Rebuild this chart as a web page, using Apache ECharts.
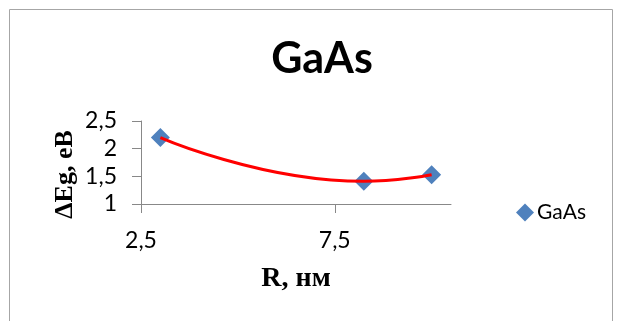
<!DOCTYPE html>
<html>
<head>
<meta charset="utf-8">
<style>
  html, body { margin: 0; padding: 0; background: #fff; }
  #chart { width: 620px; height: 321px; }
</style>
<script src="https://cdn.jsdelivr.net/npm/echarts@6/dist/echarts.min.js"></script>
</head>
<body>
<div id="chart"></div>
<script>
// Radius of GaAs quantum dots (nm) and band-gap shift (eV)
const radiusNm = [3, 8.25, 10];
const deltaEg = [2.2, 1.41, 1.53];
const xTicks = [2.5, 7.5];
const yTicks = [1, 1.5, 2, 2.5];

const points = radiusNm.map((r, i) => [r, deltaEg[i]]);
const comma = v => String(v).replace('.', ',');

const chart = echarts.init(document.getElementById('chart'), null, { renderer: 'canvas' });
chart.setOption({
  animation: false,
  backgroundColor: '#fff',
  title: {
    text: 'GaAs',
    left: 317,
    top: 33,
    textAlign: 'center',
    textStyle: { fontFamily: 'Lato', fontWeight: 'bold', fontSize: 43, color: '#000' }
  },
  graphic: [{
    type: 'rect',
    shape: { x: 9.5, y: 9.5, width: 603, height: 330 },
    style: { fill: 'none', stroke: '#a6a6a6', lineWidth: 1 },
    silent: true
  }],
  legend: {
    left: 511,
    top: 197,
    itemWidth: 18,
    itemHeight: 18,
    itemGap: 4,
    data: [{ name: 'GaAs', icon: 'diamond' }],
    itemStyle: { color: '#4f81bd', opacity: 1 },
    textStyle: { fontFamily: 'Lato', fontSize: 21, color: '#000', padding: [0, 0, 0, -2] }
  },
  grid: { left: 141, right: 169, top: 121, bottom: 117 },
  xAxis: {
    type: 'value',
    min: 2.5,
    max: 10.5,
    name: 'R, нм',
    nameLocation: 'middle',
    nameGap: 61,
    nameTextStyle: { fontFamily: 'Liberation Serif', fontWeight: 'bold', fontSize: 28, color: '#000' },
    axisLine: { lineStyle: { color: '#888', width: 1 } },
    axisTick: { show: true, length: 9, customValues: xTicks, lineStyle: { color: '#888' } },
    axisLabel: {
      customValues: xTicks,
      margin: 25,
      fontFamily: 'Lato', fontSize: 23, color: '#000',
      formatter: comma
    },
    splitLine: { show: false }
  },
  yAxis: {
    type: 'value',
    min: 1,
    max: 2.5,
    interval: 0.5,
    name: 'ΔEg, eB',
    nameLocation: 'middle',
    nameGap: 63,
    nameRotate: 90,
    nameTextStyle: { fontFamily: 'Liberation Serif', fontWeight: 'bold', fontSize: 26, color: '#000', padding: [0, 24, 0, 0] },
    axisLine: { show: true, lineStyle: { color: '#888', width: 1 } },
    axisTick: { show: true, length: 9, lineStyle: { color: '#888' } },
    axisLabel: {
      margin: 24,
      fontFamily: 'Lato', fontSize: 23, color: '#000',
      formatter: comma
    },
    splitLine: { show: false }
  },
  series: [
    {
      name: 'trend',
      type: 'line',
      data: points,
      smooth: 0.5,
      symbol: 'none',
      lineStyle: { color: '#ff0000', width: 3 },
      z: 3
    },
    {
      name: 'GaAs',
      type: 'scatter',
      data: points,
      symbol: 'diamond',
      symbolSize: 19,
      itemStyle: { color: '#4f81bd', opacity: 1 },
      z: 2
    }
  ]
});
</script>
</body>
</html>
